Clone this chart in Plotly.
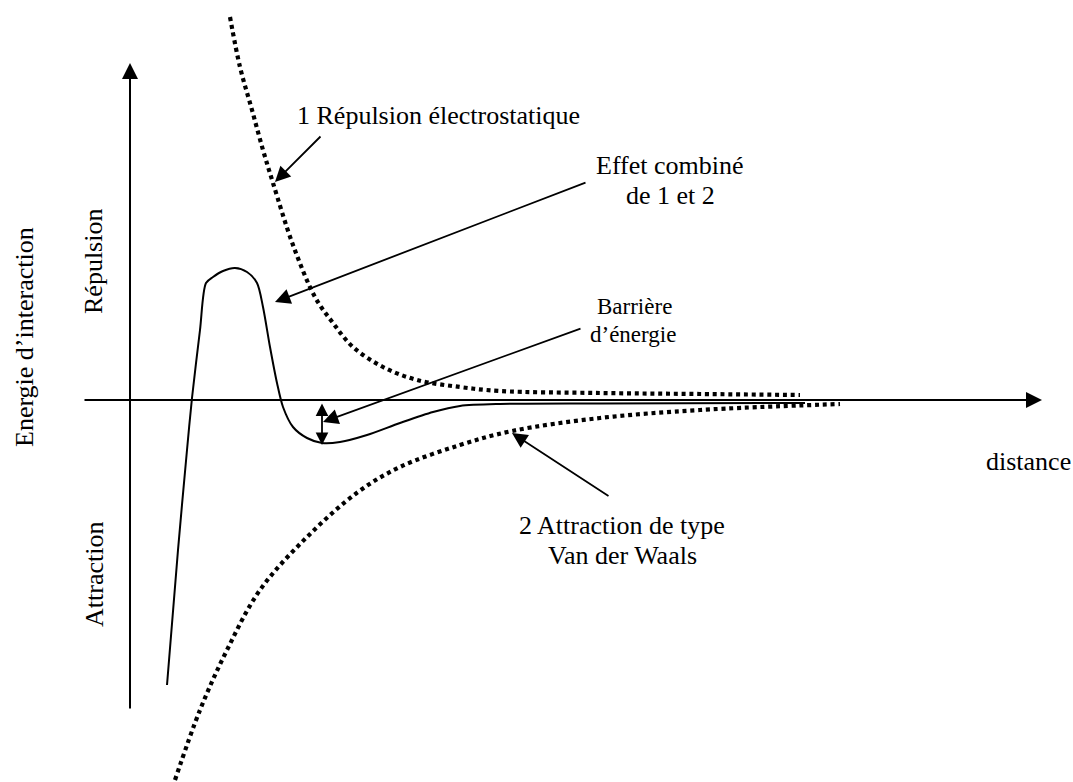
import plotly.graph_objects as go

# distance / energie, unités arbitraires (origine = croisement des axes)
combine_x = [0.37, 0.48, 0.57, 0.62, 0.70, 0.76, 0.83, 0.93, 1.05, 1.17, 1.27, 1.33, 1.40,
             1.47, 1.53, 1.63, 1.77, 1.92, 2.10, 2.37, 2.70, 3.03, 3.30, 3.70, 4.70, 6.75]
combine_y = [-2.85, -1.50, -0.50, 0.02, 0.70, 1.17, 1.23, 1.29, 1.32, 1.28, 1.17, 0.93, 0.53,
             0.17, -0.07, -0.27, -0.38, -0.43, -0.42, -0.35, -0.23, -0.12, -0.06, -0.04, -0.035, -0.03]

repulsion_x = [1.00, 1.10, 1.22, 1.33, 1.43, 1.63, 1.85, 2.03, 2.23, 2.53, 2.87, 3.30, 3.70,
               4.70, 5.70, 6.70]
repulsion_y = [3.83, 3.33, 2.90, 2.50, 2.17, 1.55, 1.03, 0.77, 0.53, 0.33, 0.20, 0.13, 0.09,
               0.07, 0.06, 0.05]

attraction_x = [0.45, 0.70, 0.97, 1.30, 1.77, 2.28, 2.70, 3.30, 3.82, 4.70, 5.70, 7.10]
attraction_y = [-3.80, -3.10, -2.50, -1.90, -1.37, -0.92, -0.67, -0.45, -0.31, -0.18, -0.10, -0.04]

SERIF = "Liberation Serif"

fig = go.Figure()

fig.add_trace(go.Scatter(
    x=repulsion_x, y=repulsion_y, mode='lines',
    line=dict(color='black', width=4.2, dash='4px,3.8px', shape='spline'),
    hoverinfo='skip'
))
fig.add_trace(go.Scatter(
    x=attraction_x, y=attraction_y, mode='lines',
    line=dict(color='black', width=4.2, dash='4px,3.8px', shape='spline'),
    hoverinfo='skip'
))
fig.add_trace(go.Scatter(
    x=combine_x, y=combine_y, mode='lines',
    line=dict(color='black', width=2, shape='spline', smoothing=0.8),
    hoverinfo='skip'
))


def fleche(x, y, ax, ay, width=1.8, size=1.7, side='end'):
    fig.add_annotation(
        x=x, y=y, ax=ax, ay=ay, xref='x', yref='y', axref='x', ayref='y',
        text='', showarrow=True, arrowhead=2, arrowsize=size, arrowwidth=width,
        arrowcolor='black', arrowside=side, standoff=0, startstandoff=0
    )


def texte(x, y, s, size=26, angle=0):
    fig.add_annotation(
        x=x, y=y, xref='x', yref='y', text=s, showarrow=False, textangle=angle,
        font=dict(family=SERIF, size=size, color='black'),
        xanchor='center', yanchor='middle'
    )


# axes
fleche(0, 3.37, 0, -3.10, width=2, size=1.6)
fleche(9.12, 0, -0.47, 0, width=2, size=1.6)

# fleches des legendes
fleche(1.45, 2.18, 1.92, 2.65)
fleche(1.45, 0.98, 4.57, 2.18)
fleche(1.93, -0.22, 4.52, 0.72)
fleche(3.82, -0.33, 4.80, -0.97)
fleche(1.92, -0.45, 1.92, -0.02, width=1.8, size=1.4, side='end+start')

texte(3.085, 2.85, '1 Répulsion électrostatique')
texte(5.40, 2.35, 'Effet combiné')
texte(5.40, 2.05, 'de 1 et 2')
texte(5.04, 0.94, 'Barrière', size=23)
texte(5.03, 0.66, 'd’énergie', size=23)
texte(4.92, -1.25, '2 Attraction de type')
texte(4.92, -1.55, 'Van der Waals')
texte(8.98, -0.61, 'distance')
texte(-1.06, 0.63, 'Energie d’interaction', angle=-90)
texte(-0.37, 1.38, 'Répulsion', angle=-90)
texte(-0.36, -1.75, 'Attraction', angle=-90)

fig.update_layout(
    width=1073, height=782,
    margin=dict(l=0, r=0, t=0, b=0),
    showlegend=False,
    plot_bgcolor='white', paper_bgcolor='white',
    xaxis=dict(range=[-1.30, 9.43], visible=False, fixedrange=True),
    yaxis=dict(range=[-3.82, 4.00], visible=False, fixedrange=True),
)

fig.write_html("out.html", config={'displayModeBar': False},
               post_script="document.body.style.margin='0';")
